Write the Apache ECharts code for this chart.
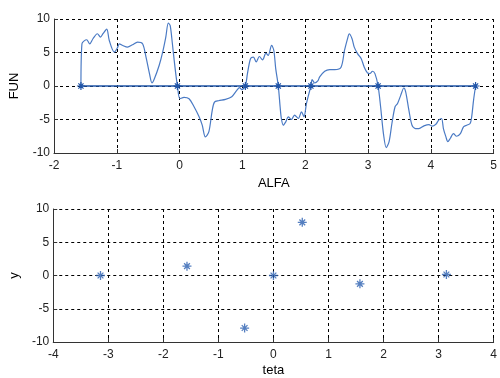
<!DOCTYPE html>
<html>
<head>
<meta charset="utf-8">
<script src="https://cdn.jsdelivr.net/npm/echarts@6/dist/echarts.min.js"></script>
<style>html,body{margin:0;padding:0;background:#fff;}#c{width:500px;height:378px;}</style>
</head>
<body>
<div id="c"></div>
<script>
// Top plot: FUN(ALFA) curve
const alfa = [-1.571,-1.555,-1.48,-1.43,-1.38,-1.31,-1.26,-1.22,-1.16,-1.12,-1.04,-0.99,-0.96,-0.905,-0.83,-0.75,-0.67,-0.59,-0.535,-0.48,-0.44,-0.405,-0.325,-0.27,-0.22,-0.18,-0.15,-0.115,-0.08,-0.035,0.006,0.07,0.15,0.23,0.31,0.36,0.41,0.465,0.52,0.555,0.62,0.73,0.83,0.91,0.955,0.99,1.047,1.08,1.13,1.175,1.22,1.27,1.32,1.375,1.41,1.465,1.50,1.53,1.571,1.60,1.62,1.65,1.69,1.73,1.78,1.83,1.89,1.94,1.98,2.02,2.09,2.11,2.15,2.2,2.23,2.31,2.39,2.47,2.57,2.625,2.68,2.70,2.745,2.78,2.835,2.89,2.94,2.99,3.03,3.07,3.11,3.16,3.2,3.245,3.29,3.335,3.38,3.43,3.47,3.52,3.57,3.6,3.65,3.70,3.755,3.81,3.89,3.97,4.02,4.08,4.125,4.17,4.2,4.24,4.27,4.31,4.36,4.41,4.47,4.52,4.57,4.625,4.65,4.68,4.712];
const fun = [0,6.3,6.9,6.3,7.05,7.8,7.3,7.8,8.5,6.8,5.06,5.7,6.3,6.05,5.8,6.15,6.55,6.3,4.3,1.85,0.45,1.0,3.1,5.06,7.3,9.4,9.0,6.3,3.3,0,-1.9,-1.7,-1.9,-3.1,-4.6,-5.85,-7.6,-6.85,-3.6,-2.4,-2.2,-2.0,-1.6,-0.65,-0.25,-0.55,0,1.85,4.1,4.3,3.6,4.4,3.9,4.9,4.55,6.05,5.3,2.6,0,-3.1,-4.85,-5.85,-5.35,-4.6,-5.0,-4.35,-4.85,-3.85,-4.6,-2.6,0,0.95,0.45,0.75,1.35,2.2,2.45,2.45,2.8,5.3,7.3,7.8,7.05,5.8,4.8,4.1,2.8,1.95,1.85,2.2,1.85,0,-3.1,-7.1,-9.2,-8.3,-5.6,-3.1,-2.6,-1.4,-0.3,-0.9,-3.6,-5.85,-6.35,-6.35,-5.95,-5.75,-6.0,-5.7,-5.1,-4.85,-6.35,-7.6,-8.3,-7.8,-7.1,-7.5,-7.1,-6.1,-5.85,-5.6,-4.6,-2.1,0];
// zero crossings
const zeroAlfa = [-1.571,-0.035,1.047,1.571,2.09,3.16,4.712];
const zeroFun = [0,0,0,0,0,0,0];
// Bottom plot: y(teta)
const teta = [-3.1416,-1.5708,-0.5236,0,0.5236,1.5708,3.1416];
const yVals = [0,1.4,-7.9,0,8.0,-1.25,0.15];

const star = 'path://M0,-5L0,5M-5,0L5,0M-3.2,-3.2L3.2,3.2M-3.2,3.2L3.2,-3.2';
const font = 'Liberation Sans, Arial, sans-serif';
function xAx(idx, min, max, name, gap){
  return {gridIndex: idx, type:'value', min:min, max:max, interval:1,
    name:name, nameLocation:'middle', nameGap:gap,
    nameTextStyle:{fontFamily:font,fontSize:13,color:'#000'},
    axisLine:{show:true,onZero:false,lineStyle:{color:'#333',width:1}},
    axisTick:{show:true,inside:true,length:4,lineStyle:{color:'#333'}},
    axisLabel:{fontFamily:font,fontSize:12,color:'#222',margin:7},
    splitLine:{show:true,lineStyle:{color:'#000',type:[3,3],width:1}}};
}
function yAx(idx, name, gap){
  return {gridIndex: idx, type:'value', min:-10, max:10, interval:5,
    name:name, nameLocation:'middle', nameGap:gap,
    nameTextStyle:{fontFamily:font,fontSize:13,color:'#000'},
    axisLine:{show:true,onZero:false,lineStyle:{color:'#333',width:1}},
    axisTick:{show:true,inside:true,length:4,lineStyle:{color:'#333'}},
    axisLabel:{fontFamily:font,fontSize:12,color:'#222',margin:4},
    splitLine:{show:true,lineStyle:{color:'#000',type:[3,3],width:1}}};
}
const chart = echarts.init(document.getElementById('c'), null, {renderer:'canvas'});
chart.setOption({
  animation:false,
  backgroundColor:'#fff',
  grid:[{left:54,top:19,width:443,height:134},{left:53,top:209,width:444,height:134}],
  xAxis:[xAx(0,-2,5,'ALFA',24), xAx(1,-4,4,'teta',22)],
  yAxis:[yAx(0,'FUN',33), yAx(1,'y',30)],
  series:[
    {type:'line', xAxisIndex:0, yAxisIndex:0, data: alfa.map((a,i)=>[a,fun[i]]),
     showSymbol:false, smooth:0.3, lineStyle:{color:'#4a7ac4',width:1.2}, z:3},
    {type:'line', xAxisIndex:0, yAxisIndex:0, data: zeroAlfa.map((a,i)=>[a,zeroFun[i]]),
     symbol:star, symbolSize:8, showAllSymbol:true,
     itemStyle:{color:'none',borderColor:'#2155a8',borderWidth:1.2},
     lineStyle:{color:'#2155a8',width:1.3}, z:4},
    {type:'scatter', xAxisIndex:1, yAxisIndex:1, data: teta.map((t,i)=>[t,yVals[i]]),
     symbol:star, symbolSize:9,
     itemStyle:{color:'none',borderColor:'#2a5fb0',borderWidth:1.3}, z:4}
  ]
});
</script>
</body>
</html>
